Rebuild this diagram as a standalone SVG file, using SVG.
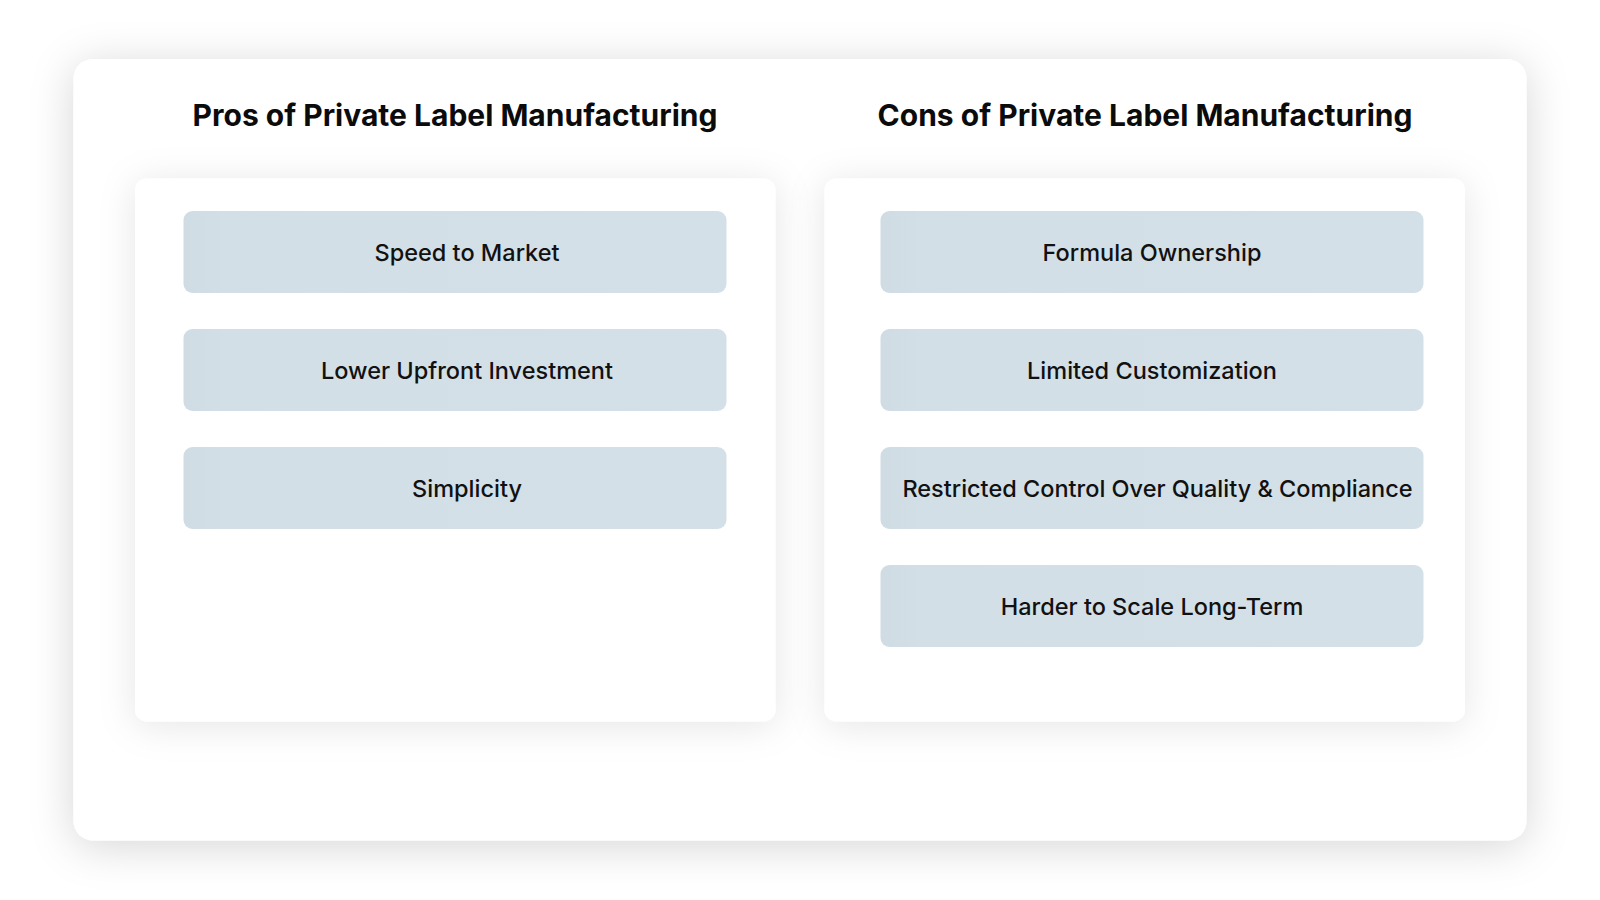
<svg xmlns="http://www.w3.org/2000/svg" width="1600" height="900" viewBox="0 0 1600 900">
  <defs>
    <filter id="cardShadow" x="-20%" y="-20%" width="140%" height="140%">
      <feDropShadow dx="0" dy="6" stdDeviation="22" flood-color="#000" flood-opacity="0.16"/>
    </filter>
    <filter id="panelShadow" x="-20%" y="-20%" width="140%" height="140%">
      <feDropShadow dx="0" dy="4" stdDeviation="18" flood-color="#000" flood-opacity="0.10"/>
    </filter>
    <linearGradient id="itemFill" x1="0" y1="0" x2="1" y2="0">
      <stop offset="0" stop-color="#cfdce4"/>
      <stop offset="0.08" stop-color="#d3dfe7"/>
      <stop offset="1" stop-color="#d4e0e7"/>
    </linearGradient>
  </defs>
  <style>
    .card { fill: #ffffff; }
    .panel { fill: #ffffff; }
    .item { fill: url(#itemFill); }
    .title { font-family: Inter, "Liberation Sans", sans-serif; font-weight: 700; font-size: 30px; fill: #0b0b0b; text-anchor: middle; }
    .label { font-family: Inter, "Liberation Sans", sans-serif; font-weight: 500; font-size: 23.5px; fill: #111111; text-anchor: middle; }
  </style>
  <rect width="1600" height="900" fill="#ffffff"/>
  <g id="card">
    <rect class="card" x="73.5" y="59" width="1453" height="781.5" rx="20" filter="url(#cardShadow)"/>
  </g>
  <g id="pros-panel">
    <rect class="panel" x="135" y="178.5" width="640.5" height="543" rx="12" filter="url(#panelShadow)"/>
    <text class="title" x="455" y="126">Pros of Private Label Manufacturing</text>
  </g>
  <g id="cons-panel">
    <rect class="panel" x="824.5" y="178.5" width="640.5" height="543" rx="12" filter="url(#panelShadow)"/>
    <text class="title" x="1145" y="126">Cons of Private Label Manufacturing</text>
  </g>
  <g id="pro-speed">
    <rect class="item" x="183.5" y="211" width="543" height="82" rx="9"/>
    <text class="label" x="467" y="261">Speed to Market</text>
  </g>
  <g id="pro-investment">
    <rect class="item" x="183.5" y="329" width="543" height="82" rx="9"/>
    <text class="label" x="467" y="379">Lower Upfront Investment</text>
  </g>
  <g id="pro-simplicity">
    <rect class="item" x="183.5" y="447" width="543" height="82" rx="9"/>
    <text class="label" x="467" y="497">Simplicity</text>
  </g>
  <g id="con-formula">
    <rect class="item" x="880.5" y="211" width="543" height="82" rx="9"/>
    <text class="label" x="1152" y="261">Formula Ownership</text>
  </g>
  <g id="con-customization">
    <rect class="item" x="880.5" y="329" width="543" height="82" rx="9"/>
    <text class="label" x="1152" y="379">Limited Customization</text>
  </g>
  <g id="con-quality">
    <rect class="item" x="880.5" y="447" width="543" height="82" rx="9"/>
    <text class="label" x="1157.5" y="497">Restricted Control Over Quality &amp; Compliance</text>
  </g>
  <g id="con-scale">
    <rect class="item" x="880.5" y="565" width="543" height="82" rx="9"/>
    <text class="label" x="1152" y="615">Harder to Scale Long-Term</text>
  </g>
  <g id="connectors"/>
</svg>
